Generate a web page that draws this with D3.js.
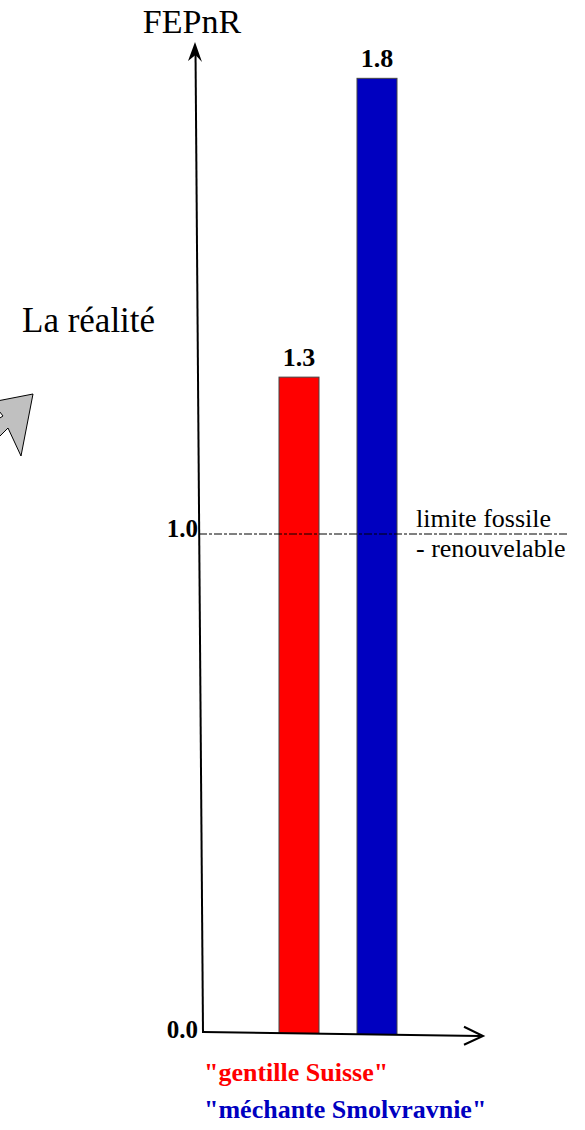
<!DOCTYPE html>
<html>
<head>
  <script src="https://d3js.org/d3.v7.min.js"></script>
  <style>
    body { margin: 0; background: #fff; }
  </style>
</head>
<body>
  <svg id="canvas" width="585" height="1130"></svg>
  <script>
    // data
    const categories = ['"gentille Suisse"', '"méchante Smolvravnie"'];
    const barLabels = ["1.3", "1.8"];
    const barHeights = [1.315, 1.915];   // height on the drawn axis
    const barColors = ["#ff0000", "#0000c0"];
    const tickValues = [0, 1];
    const tickLabels = ["0.0", "1.0"];
    const limitValue = 1;

    const svg = d3.select("#canvas");
    const serif = "'Liberation Serif', 'Times New Roman', Times, serif";

    const y = d3.scaleLinear().domain([0, 1]).range([1032, 534]);
    const bw = 40;
    const cx = [299, 377];

    // x axis is drawn slightly tilted: y at a given x
    const axisY = px => 1032 + (px - 203) * (4 / 280);

    function label(x, yy, size, txt) {
      return svg.append("text").attr("x", x).attr("y", yy)
        .style("font-family", serif).style("font-size", size + "px").text(txt);
    }

    // gray pointer arrow on the left
    svg.append("path")
      .attr("d", "M33,394 L-8,402 L3,416 L-22,432 L-10,446 L8,428 L21,456 Z")
      .attr("fill", "#c0c0c0")
      .attr("stroke", "#000")
      .attr("stroke-width", 1);

    label(22, 332, 35, "La réalité");

    // bars
    svg.selectAll("rect.bar")
      .data(categories)
      .join("rect")
      .attr("class", "bar")
      .attr("x", (d, i) => cx[i] - bw / 2)
      .attr("y", (d, i) => y(barHeights[i]))
      .attr("width", bw)
      .attr("height", (d, i) => axisY(cx[i]) - y(barHeights[i]))
      .attr("fill", (d, i) => barColors[i])
      .attr("stroke", "#444")
      .attr("stroke-width", 1);

    svg.selectAll("text.val")
      .data(barLabels)
      .join("text")
      .attr("class", "val")
      .attr("x", (d, i) => cx[i])
      .attr("y", (d, i) => y(barHeights[i]) - 11)
      .attr("text-anchor", "middle")
      .style("font-family", serif)
      .style("font-size", "26px")
      .style("font-weight", "bold")
      .text(d => d);

    // limit line
    svg.append("line")
      .attr("x1", 199).attr("x2", 568)
      .attr("y1", y(limitValue)).attr("y2", y(limitValue))
      .attr("stroke", "#000")
      .attr("stroke-width", 1)
      .attr("stroke-dasharray", "8,2,3,2");

    label(416, 527, 26, "limite fossile");
    label(416, 557, 26, "- renouvelable");

    // y axis (slightly tilted) with arrow
    svg.append("line")
      .attr("x1", 203).attr("y1", 1033).attr("x2", 195.5).attr("y2", 50)
      .attr("stroke", "#000").attr("stroke-width", 2);
    svg.append("path")
      .attr("d", "M195,42 L202,62 L195.5,55 L188,61 Z")
      .attr("fill", "#000");

    // x axis with arrow
    svg.append("line")
      .attr("x1", 203).attr("y1", 1032).attr("x2", 480).attr("y2", axisY(480))
      .attr("stroke", "#000").attr("stroke-width", 2);
    svg.append("path")
      .attr("d", `M464,${axisY(464) - 9} L483,${axisY(483)} L464,${axisY(464) + 9}`)
      .attr("fill", "none").attr("stroke", "#000").attr("stroke-width", 2);

    label(192, 33, 34, "FEPnR").attr("text-anchor", "middle");

    // tick labels
    svg.selectAll("text.tick")
      .data(tickValues)
      .join("text")
      .attr("class", "tick")
      .attr("x", 198)
      .attr("y", d => y(d) + (d === 0 ? 6 : 3))
      .attr("text-anchor", "end")
      .style("font-family", serif)
      .style("font-size", "25px")
      .style("font-weight", "bold")
      .text((d, i) => tickLabels[i]);

    // category legend
    svg.selectAll("text.cat")
      .data(categories)
      .join("text")
      .attr("class", "cat")
      .attr("x", 204)
      .attr("y", (d, i) => 1081 + i * 37)
      .style("font-family", serif)
      .style("font-size", "26px")
      .style("font-weight", "bold")
      .attr("fill", (d, i) => barColors[i])
      .text(d => d);
  </script>
</body>
</html>
